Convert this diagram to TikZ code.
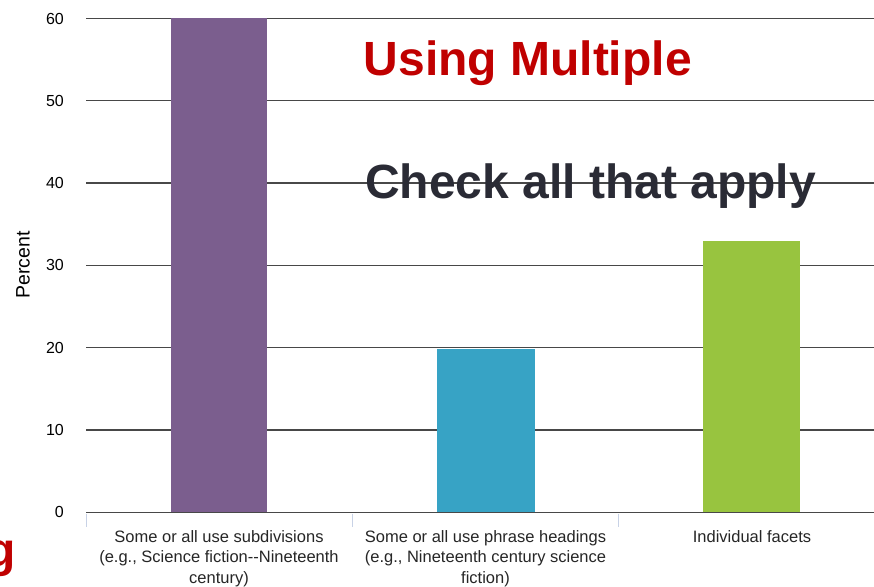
\documentclass[tikz,border=0pt]{standalone}
\usepackage{fontspec}
\setmainfont{Liberation Sans}
\definecolor{barpurple}{HTML}{7B5E8E}
\definecolor{barblue}{HTML}{37A3C5}
\definecolor{bargreen}{HTML}{98C43F}
\definecolor{titlered}{HTML}{C00000}
\definecolor{darktext}{HTML}{2A2B35}
\definecolor{gridc}{HTML}{484848}
\definecolor{sepc}{HTML}{C8D2E6}
\tikzset{
  gridline/.style={draw=gridc, line width=1.3pt},
  sepline/.style={draw=sepc, line width=0.9pt},
  ticklabel/.style={anchor=east, inner sep=0pt, font=\fontsize{16}{18}\selectfont, text=black},
  catlabel/.style={anchor=base, inner sep=0pt, align=center, font=\fontsize{16.5}{20.5}\selectfont, text=black!85},
  bigtitle/.style={anchor=base west, inner sep=0pt, font=\fontsize{48}{50}\selectfont\bfseries},
}
\begin{document}
\begin{tikzpicture}[x=1pt,y=-1pt]
\useasboundingbox (0,0) rectangle (874,586);
\clip (0,0) rectangle (874,586);
\fill[white] (0,0) rectangle (874,586);
% grid lines and tick labels
\foreach \v in {0,...,6}{
  \pgfmathsetmacro\yy{512.3-\v*82.3}
  \pgfmathtruncatemacro\lab{\v*10}
  \draw[gridline] (86,\yy) -- (874,\yy);
  \node[ticklabel] (tick\v) at (64,\yy) {\lab};
}
% category separators
\foreach \xx in {86,352,618.5}{
  \draw[sepline] (\xx,513.5) -- (\xx,527);
}
% bars
\fill[barpurple] (171,18.5) rectangle (267,511.6);
\fill[barblue] (437,348.7) rectangle (535,511.6);
\fill[bargreen] (703,240.7) rectangle (800,511.6);
% axis title
\node[rotate=90, inner sep=0pt, font=\fontsize{19.5}{22}\selectfont] (ytitle) at (23,265) {Percent};
% category labels (base anchor = last line)
\node[catlabel] (cat1) at (219,583) {Some or all use subdivisions\\(e.g., Science fiction-{}-Nineteenth\\century)};
\node[catlabel] (cat2) at (485.5,583) {Some or all use phrase headings\\(e.g., Nineteenth century science\\fiction)};
\node[catlabel] (cat3) at (752,542) {Individual facets};
% overlay titles
\node[bigtitle, text=titlered] (t1) at (363.5,75) {Using Multiple};
\node[bigtitle, text=darktext] (t2) at (365,198.5) {Check all that apply};
\node[anchor=base east, inner sep=0pt, font=\fontsize{48}{50}\selectfont\bfseries, text=titlered] (tg) at (16,566) {g};
\end{tikzpicture}
\end{document}
